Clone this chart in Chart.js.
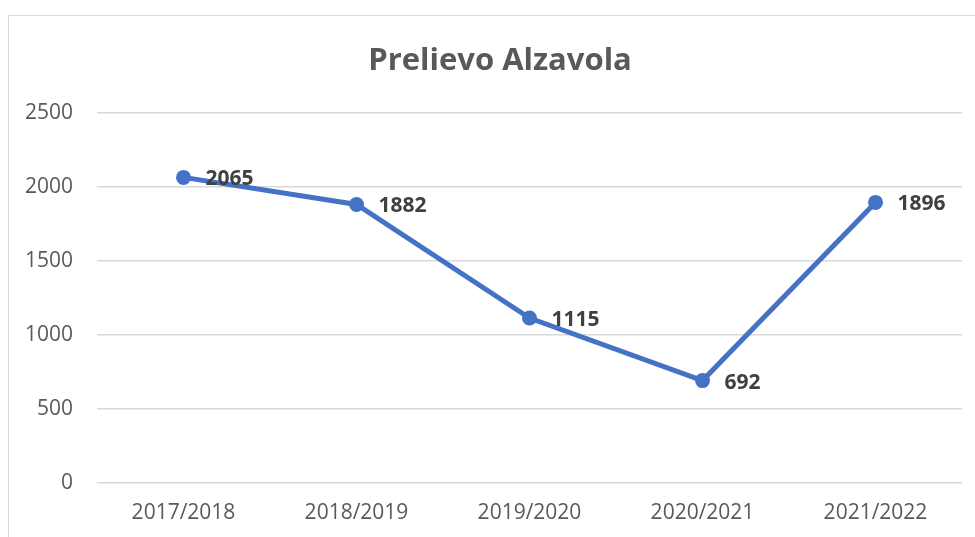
<!DOCTYPE html>
<html>
<head>
<meta charset="utf-8">
<script src="https://cdn.jsdelivr.net/npm/chart.js@4"></script>
<style>
  html, body { margin: 0; padding: 0; background: #ffffff; overflow: hidden; }
  #frame { position: absolute; left: 8px; top: 15px; width: 1100px; height: 700px; border: 1px solid #d9d9d9; box-sizing: border-box; }
  #wrap { position: absolute; left: 0; top: 0; width: 975px; height: 537px; }
</style>
</head>
<body>
<div id="frame"></div>
<div id="wrap"><canvas id="c" width="975" height="537"></canvas></div>
<script>
const categories = ["2017/2018", "2018/2019", "2019/2020", "2020/2021", "2021/2022"];
const values = [2065, 1882, 1115, 692, 1896];
const yTicks = [0, 500, 1000, 1500, 2000, 2500];
const chartTitle = "Prelievo Alzavola";

const FONT = "'Open Sans', 'Liberation Sans', sans-serif";

const titleDraw = {
  id: 'titleDraw',
  afterDraw(chart) {
    const ctx = chart.ctx;
    ctx.save();
    ctx.font = "bold 31px " + FONT;
    ctx.fillStyle = '#595959';
    ctx.textAlign = 'center';
    ctx.textBaseline = 'alphabetic';
    ctx.fillText(chartTitle, 500, 70);
    ctx.restore();
  }
};

const valueLabels = {
  id: 'valueLabels',
  afterDatasetsDraw(chart) {
    const ctx = chart.ctx;
    const meta = chart.getDatasetMeta(0);
    ctx.save();
    ctx.font = "bold 21px " + FONT;
    ctx.fillStyle = '#404040';
    ctx.textAlign = 'left';
    ctx.textBaseline = 'middle';
    meta.data.forEach((pt, i) => {
      ctx.fillText(String(chart.data.datasets[0].data[i]), pt.x + 22, pt.y + 2);
    });
    ctx.restore();
  }
};

new Chart(document.getElementById('c'), {
  type: 'line',
  data: {
    labels: categories,
    datasets: [{
      data: values,
      borderColor: '#4472C4',
      backgroundColor: '#4472C4',
      borderWidth: 5,
      pointRadius: 7.5,
      pointHoverRadius: 7.5,
      pointBackgroundColor: '#4472C4',
      pointBorderWidth: 0,
      tension: 0,
      fill: false
    }]
  },
  options: {
    responsive: false,
    animation: false,
    layout: { padding: { left: 0, right: 13, top: 113, bottom: 0 } },
    plugins: {
      legend: { display: false },
      tooltip: { enabled: false },
      title: { display: false }
    },
    scales: {
      x: {
        offset: true,
        grid: { display: false, drawTicks: false },
        border: { display: false },
        ticks: { color: '#595959', font: { family: FONT, size: 21 }, padding: 17, maxRotation: 0 },
        afterFit(scale) { scale.height = 54; }
      },
      y: {
        min: 0,
        max: 2500,
        afterBuildTicks(scale) { scale.ticks = yTicks.map(v => ({ value: v })); },
        grid: { color: '#d9d9d9', lineWidth: 1.5, drawTicks: false },
        border: { display: false },
        ticks: { color: '#595959', font: { family: FONT, size: 21 }, padding: 24, callback: v => String(v) },
        afterFit(scale) { scale.width = 97; }
      }
    }
  },
  plugins: [valueLabels, titleDraw]
});
</script>
</body>
</html>
